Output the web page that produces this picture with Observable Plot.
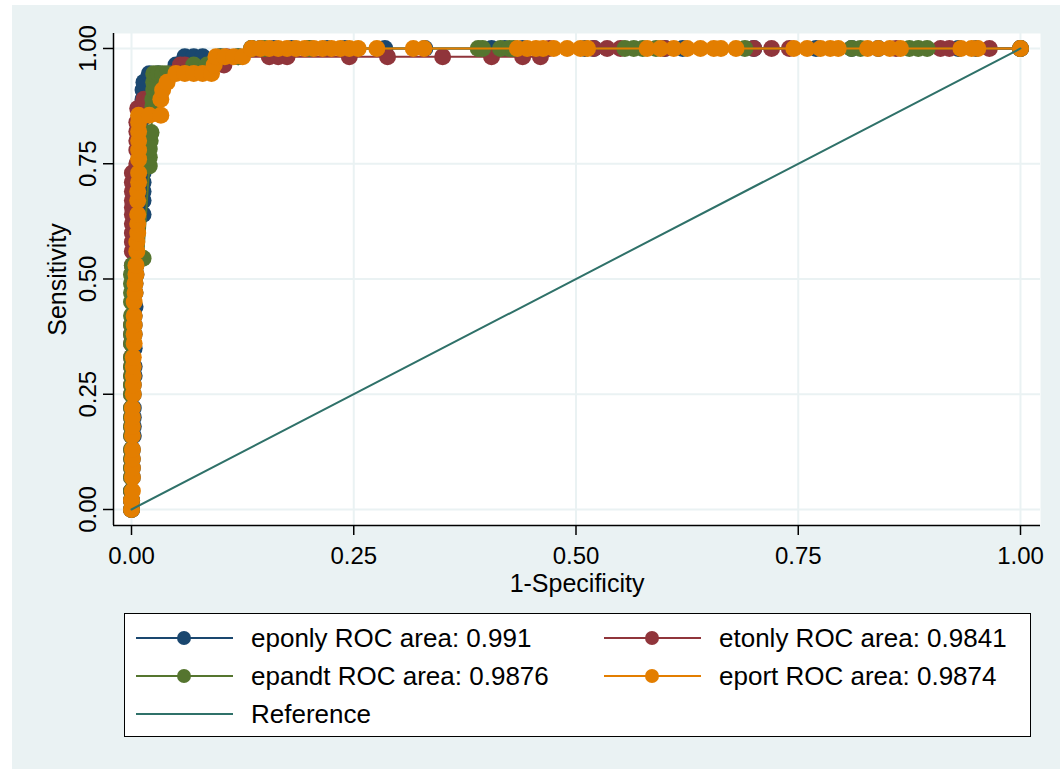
<!DOCTYPE html>
<html>
<head>
<meta charset="utf-8">
<script src="https://cdn.jsdelivr.net/npm/d3@7"></script>
<script src="https://cdn.jsdelivr.net/npm/@observablehq/plot@0.6"></script>
<style>
  html, body { margin: 0; padding: 0; background: #ffffff; }
  body { width: 1060px; height: 769px; position: relative; overflow: hidden; font-family: "Liberation Sans", Arial, sans-serif; }
  #bg { position: absolute; left: 12px; top: 5px; width: 1048px; height: 764px; background: #EAF2F3; }
  #chart { position: absolute; left: 0; top: 0; }
  #legend { position: absolute; left: 124px; top: 613px; width: 905px; height: 122px; background: #fff; border: 1px solid #000; }
  .item { position: absolute; display: flex; align-items: center; height: 30px; }
  .item span { font-size: 26px; color: #000; white-space: nowrap; margin-left: 18px; }
</style>
</head>
<body>
<div id="bg"></div>
<div id="chart"></div>
<div id="legend"></div>
<script>
// ---- Data (1-Specificity, Sensitivity) ----
const eponly = [[0,0],[0,0.02],[0,0.04],[0.001,0.07],[0.001,0.09],[0.001,0.11],[0.001,0.13],[0.002,0.16],[0.002,0.18],[0.002,0.2],[0.002,0.22],[0.002,0.25],[0.002,0.27],[0.003,0.29],[0.003,0.31],[0.003,0.35],[0.003,0.38],[0.003,0.4],[0.003,0.42],[0.004,0.44],[0.004,0.47],[0.004,0.49],[0.005,0.51],[0.005,0.53],[0.005,0.56],[0.005,0.58],[0.006,0.6],[0.013,0.64],[0.013,0.67],[0.013,0.69],[0.013,0.71],[0.013,0.73],[0.013,0.76],[0.013,0.78],[0.013,0.8],[0.013,0.82],[0.013,0.85],[0.013,0.87],[0.013,0.89],[0.013,0.91],[0.014,0.927],[0.02,0.945],[0.03,0.945],[0.05,0.964],[0.06,0.982],[0.07,0.982],[0.08,0.982],[0.1,0.982],[0.12,0.982],[0.135,1],[0.145,1],[0.16,1],[0.18,1],[0.2,1],[0.22,1],[0.24,1],[0.285,1],[0.33,1],[0.405,1],[0.42,1],[0.44,1],[0.51,1],[0.52,1],[0.6,1],[0.62,1],[0.7,1],[0.77,1],[0.81,1],[0.84,1],[0.93,1],[0.95,1],[1,1]];
const etonly = [[0,0],[0,0.02],[0,0.04],[0,0.07],[0,0.09],[0,0.11],[0,0.13],[0,0.16],[0,0.18],[0,0.2],[0,0.22],[0,0.25],[0,0.27],[0,0.29],[0,0.31],[0,0.33],[0,0.36],[0,0.38],[0,0.4],[0.001,0.42],[0.001,0.45],[0.001,0.47],[0.001,0.49],[0.001,0.51],[0.001,0.53],[0.001,0.56],[0.001,0.58],[0.001,0.6],[0.001,0.62],[0.001,0.64],[0.001,0.655],[0.001,0.67],[0.001,0.69],[0.001,0.71],[0.001,0.73],[0.006,0.75],[0.006,0.78],[0.006,0.8],[0.006,0.82],[0.006,0.84],[0.007,0.87],[0.013,0.875],[0.014,0.89],[0.02,0.89],[0.03,0.89],[0.045,0.945],[0.055,0.964],[0.06,0.964],[0.104,0.964],[0.107,0.982],[0.155,0.982],[0.165,0.982],[0.175,0.982],[0.245,0.982],[0.288,0.982],[0.35,0.982],[0.405,0.982],[0.44,0.982],[0.46,0.982],[0.47,1],[0.52,1],[0.535,1],[0.55,1],[0.6,1],[0.7,1],[0.72,1],[0.74,1],[0.86,1],[0.91,1],[0.92,1],[0.965,1],[1,1]];
const epandt = [[0,0],[0,0.02],[0,0.04],[0,0.07],[0,0.09],[0,0.11],[0,0.13],[0,0.16],[0,0.18],[0,0.2],[0,0.22],[0,0.25],[0,0.27],[0,0.29],[0,0.31],[0,0.33],[0,0.36],[0,0.38],[0,0.4],[0,0.42],[0,0.45],[0,0.47],[0,0.49],[0,0.51],[0.001,0.53],[0.013,0.545],[0.02,0.745],[0.02,0.764],[0.02,0.782],[0.021,0.8],[0.022,0.818],[0.024,0.873],[0.024,0.89],[0.025,0.91],[0.025,0.927],[0.025,0.945],[0.03,0.945],[0.035,0.945],[0.04,0.945],[0.07,0.964],[0.085,0.964],[0.1,0.982],[0.12,0.982],[0.135,1],[0.15,1],[0.2,1],[0.39,1],[0.395,1],[0.415,1],[0.425,1],[0.43,1],[0.555,1],[0.565,1],[0.575,1],[0.59,1],[0.69,1],[0.81,1],[0.82,1],[0.875,1],[0.885,1],[0.895,1],[1,1]];
const eport = [[0,0],[0,0.02],[0.001,0.04],[0.001,0.07],[0.001,0.09],[0.001,0.11],[0.001,0.13],[0.001,0.16],[0.001,0.18],[0.001,0.2],[0.001,0.22],[0.002,0.25],[0.002,0.27],[0.002,0.29],[0.002,0.31],[0.002,0.33],[0.003,0.36],[0.003,0.38],[0.003,0.4],[0.003,0.42],[0.003,0.45],[0.004,0.47],[0.004,0.49],[0.005,0.51],[0.005,0.53],[0.006,0.56],[0.006,0.58],[0.007,0.6],[0.007,0.62],[0.007,0.64],[0.007,0.67],[0.007,0.69],[0.008,0.71],[0.008,0.73],[0.008,0.76],[0.008,0.78],[0.008,0.8],[0.008,0.82],[0.008,0.84],[0.008,0.855],[0.02,0.855],[0.033,0.855],[0.033,0.89],[0.035,0.91],[0.04,0.927],[0.05,0.946],[0.06,0.946],[0.07,0.946],[0.08,0.946],[0.09,0.946],[0.093,0.964],[0.095,0.982],[0.105,0.982],[0.115,0.982],[0.125,0.982],[0.135,1],[0.145,1],[0.155,1],[0.165,1],[0.175,1],[0.185,1],[0.195,1],[0.205,1],[0.215,1],[0.225,1],[0.235,1],[0.245,1],[0.255,1],[0.276,1],[0.317,1],[0.329,1],[0.434,1],[0.445,1],[0.455,1],[0.463,1],[0.475,1],[0.49,1],[0.505,1],[0.513,1],[0.58,1],[0.595,1],[0.61,1],[0.625,1],[0.64,1],[0.655,1],[0.663,1],[0.68,1],[0.745,1],[0.76,1],[0.775,1],[0.786,1],[0.795,1],[0.828,1],[0.84,1],[0.853,1],[0.865,1],[0.933,1],[0.945,1],[0.952,1],[1,1]];
const reference = [[0,0],[1,1]];

const seriesNames = ["eponly", "etonly", "epandt", "eport"];
const rocAreas = ["0.991", "0.9841", "0.9876", "0.9874"];
const seriesColors = ["#1A476F", "#90353B", "#55752F", "#E37E00"];
const referenceLabel = "Reference";
const referenceColor = "#2F7169";

const xTicks = [0, 0.25, 0.5, 0.75, 1];
const yTicks = [0, 0.25, 0.5, 0.75, 1];
const xLabel = "1-Specificity";
const yLabel = "Sensitivity";
const xDomain = [-0.02025, 1.0225];
const yDomain = [-0.0347, 1.0325];

// ---- Build ----
const seriesData = [eponly, etonly, epandt, eport];
const fmt = d3.format(".2f");
const gridColor = "#EAF2F3";

const seriesMarks = seriesData.flatMap((pts, i) => [
  Plot.line(pts, {x: d => d[0], y: d => d[1], stroke: seriesColors[i], strokeWidth: 2}),
  Plot.dot(pts, {x: d => d[0], y: d => d[1], r: 8.5, fill: seriesColors[i], stroke: "none"})
]);

const chart = Plot.plot({
  width: 1060,
  height: 600,
  marginLeft: 113,
  marginRight: 20,
  marginTop: 33,
  marginBottom: 75,
  x: {domain: xDomain},
  y: {domain: yDomain},
  style: {background: "transparent", fontFamily: "'Liberation Sans', Arial, sans-serif", fontSize: "25px", color: "#000", overflow: "visible"},
  marks: [
    Plot.frame({fill: "white", stroke: "none"}),
    Plot.gridX(xTicks, {stroke: gridColor, strokeOpacity: 1, strokeWidth: 2}),
    Plot.gridY(yTicks, {stroke: gridColor, strokeOpacity: 1, strokeWidth: 2}),
    ...seriesMarks,
    Plot.line(reference, {x: d => d[0], y: d => d[1], stroke: referenceColor, strokeWidth: 2}),
    Plot.ruleX([xDomain[0]], {stroke: "#000", strokeWidth: 1.5}),
    Plot.ruleY([yDomain[0]], {stroke: "#000", strokeWidth: 1.5}),
    Plot.axisX({ticks: xTicks, tickSize: 10, tickFormat: () => "", label: null, stroke: "#000", strokeWidth: 1.5}),
    Plot.axisY({ticks: yTicks, tickSize: 10, tickFormat: () => "", label: null, stroke: "#000", strokeWidth: 1.5}),
    Plot.text(xTicks, {x: d => d, frameAnchor: "bottom", lineAnchor: "middle", textAnchor: "middle", dy: 31, text: d => fmt(d), fill: "#000", fontSize: 24}),
    Plot.text(yTicks, {y: d => d, frameAnchor: "left", lineAnchor: "middle", textAnchor: "middle", dx: -25, rotate: -90, text: d => fmt(d), fill: "#000", fontSize: 24}),
    Plot.text([xLabel], {frameAnchor: "bottom", lineAnchor: "middle", textAnchor: "middle", dy: 58, text: d => d, fill: "#000", fontSize: 25}),
    Plot.text([yLabel], {frameAnchor: "left", lineAnchor: "middle", textAnchor: "middle", dx: -56, rotate: -90, text: d => d, fill: "#000", fontSize: 25})
  ]
});
document.getElementById("chart").appendChild(chart);

// ---- Legend ----
const legend = document.getElementById("legend");
const legendItems = seriesNames.map((n, i) => ({label: `${n} ROC area: ${rocAreas[i]}`, color: seriesColors[i], marker: true}));
legendItems.push({label: referenceLabel, color: referenceColor, marker: false});
const colLeft = [11, 479];
const rowTop = [9, 47, 85];
legendItems.forEach((it, i) => {
  const div = document.createElement("div");
  div.className = "item";
  div.style.left = colLeft[i % 2] + "px";
  div.style.top = rowTop[Math.floor(i / 2)] + "px";
  const svg = d3.create("svg").attr("width", 97).attr("height", 30);
  svg.append("line").attr("x1", 0).attr("x2", 97).attr("y1", 15).attr("y2", 15)
    .attr("stroke", it.color).attr("stroke-width", 2);
  if (it.marker) svg.append("circle").attr("cx", 48).attr("cy", 15).attr("r", 7).attr("fill", it.color);
  div.appendChild(svg.node());
  const span = document.createElement("span");
  span.textContent = it.label;
  div.appendChild(span);
  legend.appendChild(div);
});
</script>
</body>
</html>
